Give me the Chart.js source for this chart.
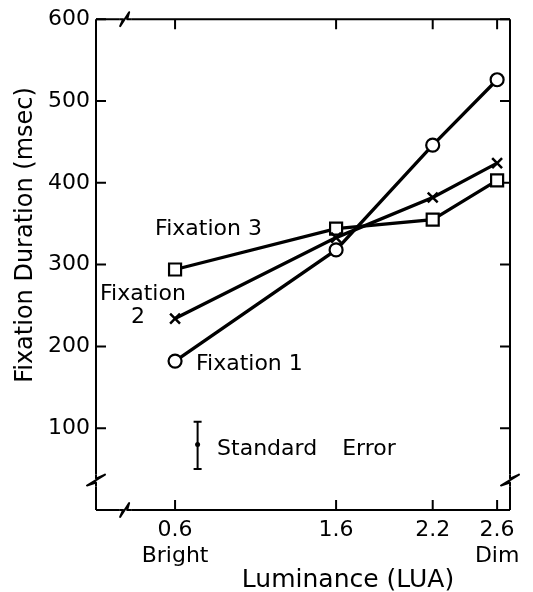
<!DOCTYPE html>
<html>
<head>
<meta charset="utf-8">
<title>Fixation Duration and Luminance</title>
<script src="https://cdn.jsdelivr.net/npm/chart.js@4.4.1/dist/chart.umd.min.js"></script>
<style>
  html, body { margin: 0; padding: 0; background: #fff; }
</style>
</head>
<body>
<canvas id="my-chart" width="533" height="592"></canvas>
<script>
'use strict';

// DATA

let luminance = [0.6, 1.6, 2.2, 2.6];
let fixationOne = [182, 318, 446, 526];
let fixationTwo = [234, 333, 382, 424];
let fixationThree = [294, 344, 355, 403];

let xTickValues = [0.6, 1.6, 2.2, 2.6];
let xTickLabels = [['0.6', 'Bright'], '1.6', '2.2', ['2.6', 'Dim']];
let yTickValues = [100, 200, 300, 400, 500, 600];

// standard error key
let seLuminance = 0.74;
let seMean = 80;
let seLow = 50;
let seHigh = 108;

// CANVAS REFERENCE

let ctx = document.getElementById('my-chart').getContext('2d');

Chart.defaults.font.family = '"DejaVu Sans", sans-serif';
Chart.defaults.color = '#000';

// HELPERS

function toPoints(values) {
  return luminance.map((lum, i) => ({ x: lum, y: values[i] }));
}

// small zigzag for a broken horizontal line
function breakH(c, bx, yy) {
  c.beginPath();
  c.moveTo(bx - 6, yy);
  c.lineTo(bx - 2, yy);
  c.lineTo(bx - 5, yy + 7);
  c.lineTo(bx + 4, yy - 7);
  c.lineTo(bx + 2, yy);
  c.lineTo(bx + 6, yy);
  c.stroke();
}

// same for a vertical line
function breakV(c, xx, by) {
  c.beginPath();
  c.moveTo(xx, by - 6);
  c.lineTo(xx, by - 2);
  c.lineTo(xx + 9, by - 6);
  c.lineTo(xx - 9, by + 5);
  c.lineTo(xx, by + 2);
  c.lineTo(xx, by + 6);
  c.stroke();
}

// frame with breaks and inward ticks, drawn under the lines
let framePlugin = {
  id: 'frame',
  beforeDatasetsDraw(chart) {
    let c = chart.ctx;
    let a = chart.chartArea;
    let x = chart.scales.x;
    let y = chart.scales.y;
    let bx = x.getPixelForValue(0.29);
    let by = y.getPixelForValue(36);
    let gap = 6;
    let tick = 10;

    c.save();
    c.strokeStyle = '#000';
    c.lineWidth = 2;
    c.lineJoin = 'round';

    c.beginPath();
    // top
    c.moveTo(a.left, a.top); c.lineTo(bx - gap, a.top);
    c.moveTo(bx + gap, a.top); c.lineTo(a.right, a.top);
    // bottom
    c.moveTo(a.left, a.bottom); c.lineTo(bx - gap, a.bottom);
    c.moveTo(bx + gap, a.bottom); c.lineTo(a.right, a.bottom);
    // left
    c.moveTo(a.left, a.top); c.lineTo(a.left, by - gap);
    c.moveTo(a.left, by + gap); c.lineTo(a.left, a.bottom);
    // right
    c.moveTo(a.right, a.top); c.lineTo(a.right, by - gap);
    c.moveTo(a.right, by + gap); c.lineTo(a.right, a.bottom);
    c.stroke();

    breakH(c, bx, a.top);
    breakH(c, bx, a.bottom);
    breakV(c, a.left, by);
    breakV(c, a.right, by);

    c.beginPath();
    for (let i = 0; i < yTickValues.length; i++) {
      let py = y.getPixelForValue(yTickValues[i]);
      c.moveTo(a.left, py); c.lineTo(a.left + tick, py);
      c.moveTo(a.right, py); c.lineTo(a.right - tick, py);
    }
    for (let i = 0; i < xTickValues.length; i++) {
      let px = x.getPixelForValue(xTickValues[i]);
      c.moveTo(px, a.bottom); c.lineTo(px, a.bottom - tick);
      c.moveTo(px, a.top); c.lineTo(px, a.top + tick);
    }
    c.stroke();

    // standard error bar
    let ex = x.getPixelForValue(seLuminance);
    let top = y.getPixelForValue(seHigh);
    let bottom = y.getPixelForValue(seLow);
    c.beginPath();
    c.moveTo(ex, top); c.lineTo(ex, bottom);
    c.moveTo(ex - 4, top); c.lineTo(ex + 4, top);
    c.moveTo(ex - 4, bottom); c.lineTo(ex + 4, bottom);
    c.stroke();
    c.beginPath();
    c.arc(ex, y.getPixelForValue(seMean), 2.5, 0, Math.PI * 2);
    c.fillStyle = '#000';
    c.fill();

    c.restore();
  }
};

// text notes placed in data units
let notes = [
  { text: 'Fixation 3', x: 0.476, y: 336, align: 'left' },
  { text: 'Fixation', x: 0.134, y: 257, align: 'left' },
  { text: '2', x: 0.37, y: 229, align: 'center' },
  { text: 'Fixation 1', x: 0.73, y: 171, align: 'left' },
  { text: 'Standard Error', x: 0.861, y: 67, align: 'left', wordSpacing: '18px' }
];

let textPlugin = {
  id: 'notes',
  afterDraw(chart) {
    let c = chart.ctx;
    let x = chart.scales.x;
    let y = chart.scales.y;

    c.save();
    c.fillStyle = '#000';
    c.textBaseline = 'alphabetic';
    c.font = '22px "DejaVu Sans"';
    for (let i = 0; i < notes.length; i++) {
      let n = notes[i];
      c.textAlign = n.align;
      c.wordSpacing = n.wordSpacing || '0px';
      c.fillText(n.text, x.getPixelForValue(n.x), y.getPixelForValue(n.y));
    }
    c.wordSpacing = '0px';

    // axis titles
    c.font = '25px "DejaVu Sans"';
    c.textAlign = 'center';
    c.fillText('Luminance (LUA)', 348, 587);

    c.translate(32, 235);
    c.rotate(-Math.PI / 2);
    c.font = '24px "DejaVu Sans"';
    c.fillText('Fixation Duration (msec)', 0, 0);
    c.restore();
  }
};

// CHART

let chartObj = {
  type: 'line',
  data: {
    datasets: [{
      label: 'Fixation 1',
      data: toPoints(fixationOne),
      borderColor: '#000',
      borderWidth: 3.3,
      pointStyle: 'circle',
      pointRadius: 6.5,
      pointBorderWidth: 2.2,
      pointBorderColor: '#000',
      pointBackgroundColor: '#fff'
    },
    {
      label: 'Fixation 2',
      data: toPoints(fixationTwo),
      borderColor: '#000',
      borderWidth: 3.3,
      pointStyle: 'crossRot',
      pointRadius: 7,
      pointBorderWidth: 2.5,
      pointBorderColor: '#000',
      pointBackgroundColor: '#fff'
    },
    {
      label: 'Fixation 3',
      data: toPoints(fixationThree),
      borderColor: '#000',
      borderWidth: 3.3,
      pointStyle: 'rect',
      pointRadius: 8.5,
      pointBorderWidth: 2.2,
      pointBorderColor: '#000',
      pointBackgroundColor: '#fff'
    }]
  },
  options: {
    responsive: false,
    animation: false,
    layout: {
      padding: { top: 15, right: 23, left: 0, bottom: 0 }
    },
    plugins: {
      legend: { display: false },
      tooltip: { enabled: false }
    },
    scales: {
      x: {
        type: 'linear',
        min: 0.109,
        max: 2.68,
        grid: { display: false, drawTicks: false },
        border: { display: false },
        afterBuildTicks: (scale) => {
          scale.ticks = xTickValues.map(v => ({ value: v }));
        },
        afterFit: (scale) => {
          scale.height = 82;
        },
        ticks: {
          autoSkip: false,
          maxRotation: 0,
          padding: 7,
          font: { size: 22 },
          callback: (value, index) => xTickLabels[index]
        }
      },
      y: {
        min: 0,
        max: 600,
        grid: { display: false, drawTicks: false },
        border: { display: false },
        afterBuildTicks: (scale) => {
          scale.ticks = yTickValues.map(v => ({ value: v }));
        },
        afterFit: (scale) => {
          scale.width = 96;
        },
        ticks: {
          padding: 6,
          font: { size: 22 }
        }
      }
    }
  },
  plugins: [framePlugin, textPlugin]
};

new Chart(ctx, chartObj);
</script>
</body>
</html>
